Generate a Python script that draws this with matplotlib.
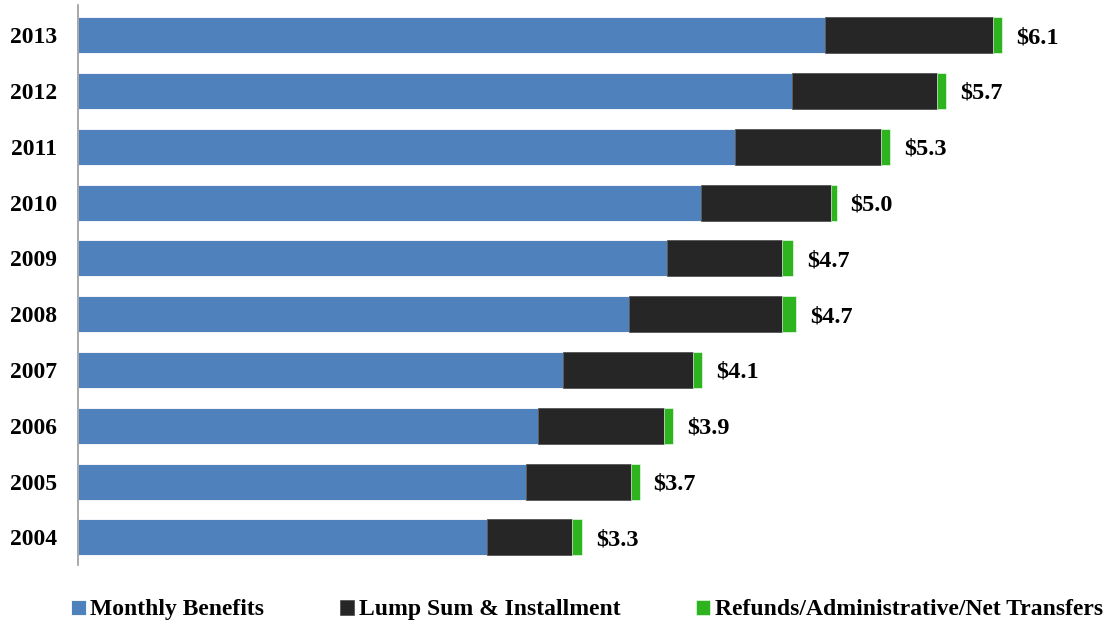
import matplotlib.pyplot as plt
import numpy as np

years = ["2004", "2005", "2006", "2007", "2008", "2009", "2010", "2011", "2012", "2013"]
monthly = [2.70, 2.96, 3.04, 3.20, 3.64, 3.89, 4.11, 4.34, 4.71, 4.93]
lump = [0.56, 0.69, 0.83, 0.86, 1.01, 0.76, 0.86, 0.96, 0.96, 1.11]
refunds = [0.07, 0.06, 0.06, 0.06, 0.09, 0.07, 0.04, 0.06, 0.06, 0.06]
totals = ["$3.3", "$3.7", "$3.9", "$4.1", "$4.7", "$4.7", "$5.0", "$5.3", "$5.7", "$6.1"]

plt.rcParams['font.family'] = ['Liberation Serif', 'DejaVu Serif']
plt.rcParams['font.weight'] = 'bold'

fig = plt.figure(figsize=(11.12, 6.26), dpi=100)
ax = fig.add_axes([0.070, 0.097, 0.928, 0.895])

y = np.arange(len(years))
h = 0.645
m = np.array(monthly)
l = np.array(lump)
r = np.array(refunds)
ax.barh(y, m, h, color="#4f81bd", edgecolor="white", linewidth=0.6, label="Monthly Benefits")
ax.barh(y, l, h, left=m, color="#262626", edgecolor="#555555", linewidth=0.6, label="Lump Sum & Installment")
ax.barh(y, r, h, left=m + l, color="#2db41e", edgecolor="white", linewidth=0.4,
        label="Refunds/Administrative/Net Transfers")

for i in range(len(years)):
    ax.text(m[i] + l[i] + r[i] + 0.09, y[i], totals[i], va="center_baseline", ha="left",
            fontsize=17.5, fontweight="bold")

ax.set_xlim(0, 6.81)
ax.set_ylim(-0.5, 9.54)
ax.set_yticks(y)
ax.set_yticklabels(years, fontsize=17, fontweight="bold")
ax.tick_params(axis="y", length=0, pad=15)
ax.set_xticks([])
for s in ["top", "right", "bottom"]:
    ax.spines[s].set_visible(False)
ax.spines["left"].set_color("#999999")
ax.spines["left"].set_linewidth(1.2)

fig.legend(loc="lower center", bbox_to_anchor=(0.528, -0.025), ncol=3, frameon=False,
           fontsize=17, handlelength=0.6, handleheight=0.6, handletextpad=0.2,
           columnspacing=3.2)

plt.savefig("out.png", dpi=100)
